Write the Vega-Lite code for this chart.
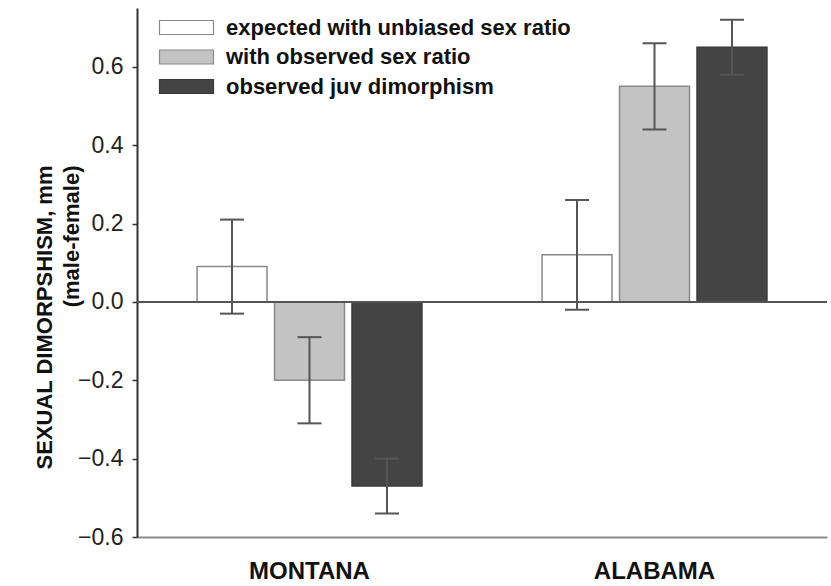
{
  "$schema": "https://vega.github.io/schema/vega-lite/v6.json",
  "width": 690,
  "height": 529,
  "autosize": {"type": "none"},
  "padding": {"left": 137, "top": 8, "right": 4, "bottom": 49},
  "background": "white",
  "config": {
    "view": {"stroke": null},
    "font": "Liberation Sans"
  },
  "data": {
    "values": [
      {"site": "MONTANA", "group": "expected with unbiased sex ratio", "value": 0.09, "lo": -0.03, "hi": 0.21},
      {"site": "MONTANA", "group": "with observed sex ratio", "value": -0.20, "lo": -0.31, "hi": -0.09},
      {"site": "MONTANA", "group": "observed juv dimorphism", "value": -0.47, "lo": -0.54, "hi": -0.40},
      {"site": "ALABAMA", "group": "expected with unbiased sex ratio", "value": 0.12, "lo": -0.02, "hi": 0.26},
      {"site": "ALABAMA", "group": "with observed sex ratio", "value": 0.55, "lo": 0.44, "hi": 0.66},
      {"site": "ALABAMA", "group": "observed juv dimorphism", "value": 0.65, "lo": 0.58, "hi": 0.72}
    ]
  },
  "encoding": {
    "x": {
      "field": "site",
      "type": "nominal",
      "sort": ["MONTANA", "ALABAMA"],
      "scale": {"paddingInner": 0, "paddingOuter": 0},
      "axis": {
        "title": null,
        "labelAngle": 0,
        "labelFontSize": 24,
        "labelFontWeight": "bold",
        "labelColor": "#111",
        "labelPadding": 22,
        "ticks": false,
        "domainColor": "#8a8a8a",
        "domainWidth": 2
      }
    },
    "xOffset": {
      "field": "group",
      "type": "nominal",
      "sort": ["expected with unbiased sex ratio", "with observed sex ratio", "observed juv dimorphism"],
      "scale": {"paddingInner": 0.097, "paddingOuter": 0.775}
    }
  },
  "layer": [
    {
      "mark": {"type": "bar", "strokeWidth": 1.5},
      "encoding": {
        "y": {
          "field": "value",
          "type": "quantitative",
          "scale": {"domain": [-0.6, 0.75], "nice": false, "zero": false},
          "axis": {
            "values": [-0.6, -0.4, -0.2, 0, 0.2, 0.4, 0.6],
            "format": ".1f",
            "grid": false,
            "labelFontSize": 23,
            "labelColor": "#222",
            "labelPadding": 9,
            "tickSize": 5,
            "tickColor": "#333",
            "tickWidth": 1.5,
            "domainColor": "#333",
            "domainWidth": 2,
            "title": ["SEXUAL DIMORPSHISM, mm", "(male-female)"],
            "titleFontSize": 22,
            "titleFontWeight": "bold",
            "titleColor": "#111",
            "titleAngle": 270,
            "titleAlign": "right",
            "titleBaseline": "top",
            "titleLineHeight": 27,
            "titleX": -103,
            "titleY": 157
          }
        },
        "y2": {"datum": 0},
        "fill": {
          "field": "group",
          "type": "nominal",
          "scale": {
            "domain": ["expected with unbiased sex ratio", "with observed sex ratio", "observed juv dimorphism"],
            "range": ["#ffffff", "#c3c3c3", "#444444"]
          },
          "legend": {
            "title": null,
            "orient": "none",
            "legendX": 35,
            "legendY": 5,
            "labelFontSize": 22,
            "labelFontWeight": "bold",
            "labelColor": "#111",
            "labelLimit": 500,
            "symbolType": "M-2,-0.52L2,-0.52L2,0.52L-2,0.52Z",
            "symbolSize": 729,
            "symbolStrokeColor": "#888",
            "symbolStrokeWidth": 1.2,
            "symbolOpacity": 1,
            "rowPadding": 3.5,
            "labelOffset": 25
          }
        },
        "stroke": {
          "field": "group",
          "type": "nominal",
          "scale": {
            "domain": ["expected with unbiased sex ratio", "with observed sex ratio", "observed juv dimorphism"],
            "range": ["#8a8a8a", "#8a8a8a", "#3a3a3a"]
          },
          "legend": null
        }
      }
    },
    {
      "mark": {"type": "rule", "color": "#555", "strokeWidth": 1.5},
      "encoding": {"y": {"datum": 0}, "x": null, "xOffset": null}
    },
    {
      "mark": {"type": "rule", "color": "#555", "strokeWidth": 2},
      "encoding": {
        "y": {"field": "lo", "type": "quantitative"},
        "y2": {"field": "hi"}
      }
    },
    {
      "mark": {"type": "tick", "color": "#555", "size": 24, "thickness": 2, "opacity": 1},
      "encoding": {"y": {"field": "lo", "type": "quantitative"}}
    },
    {
      "mark": {"type": "tick", "color": "#555", "size": 24, "thickness": 2, "opacity": 1},
      "encoding": {"y": {"field": "hi", "type": "quantitative"}}
    }
  ]
}
